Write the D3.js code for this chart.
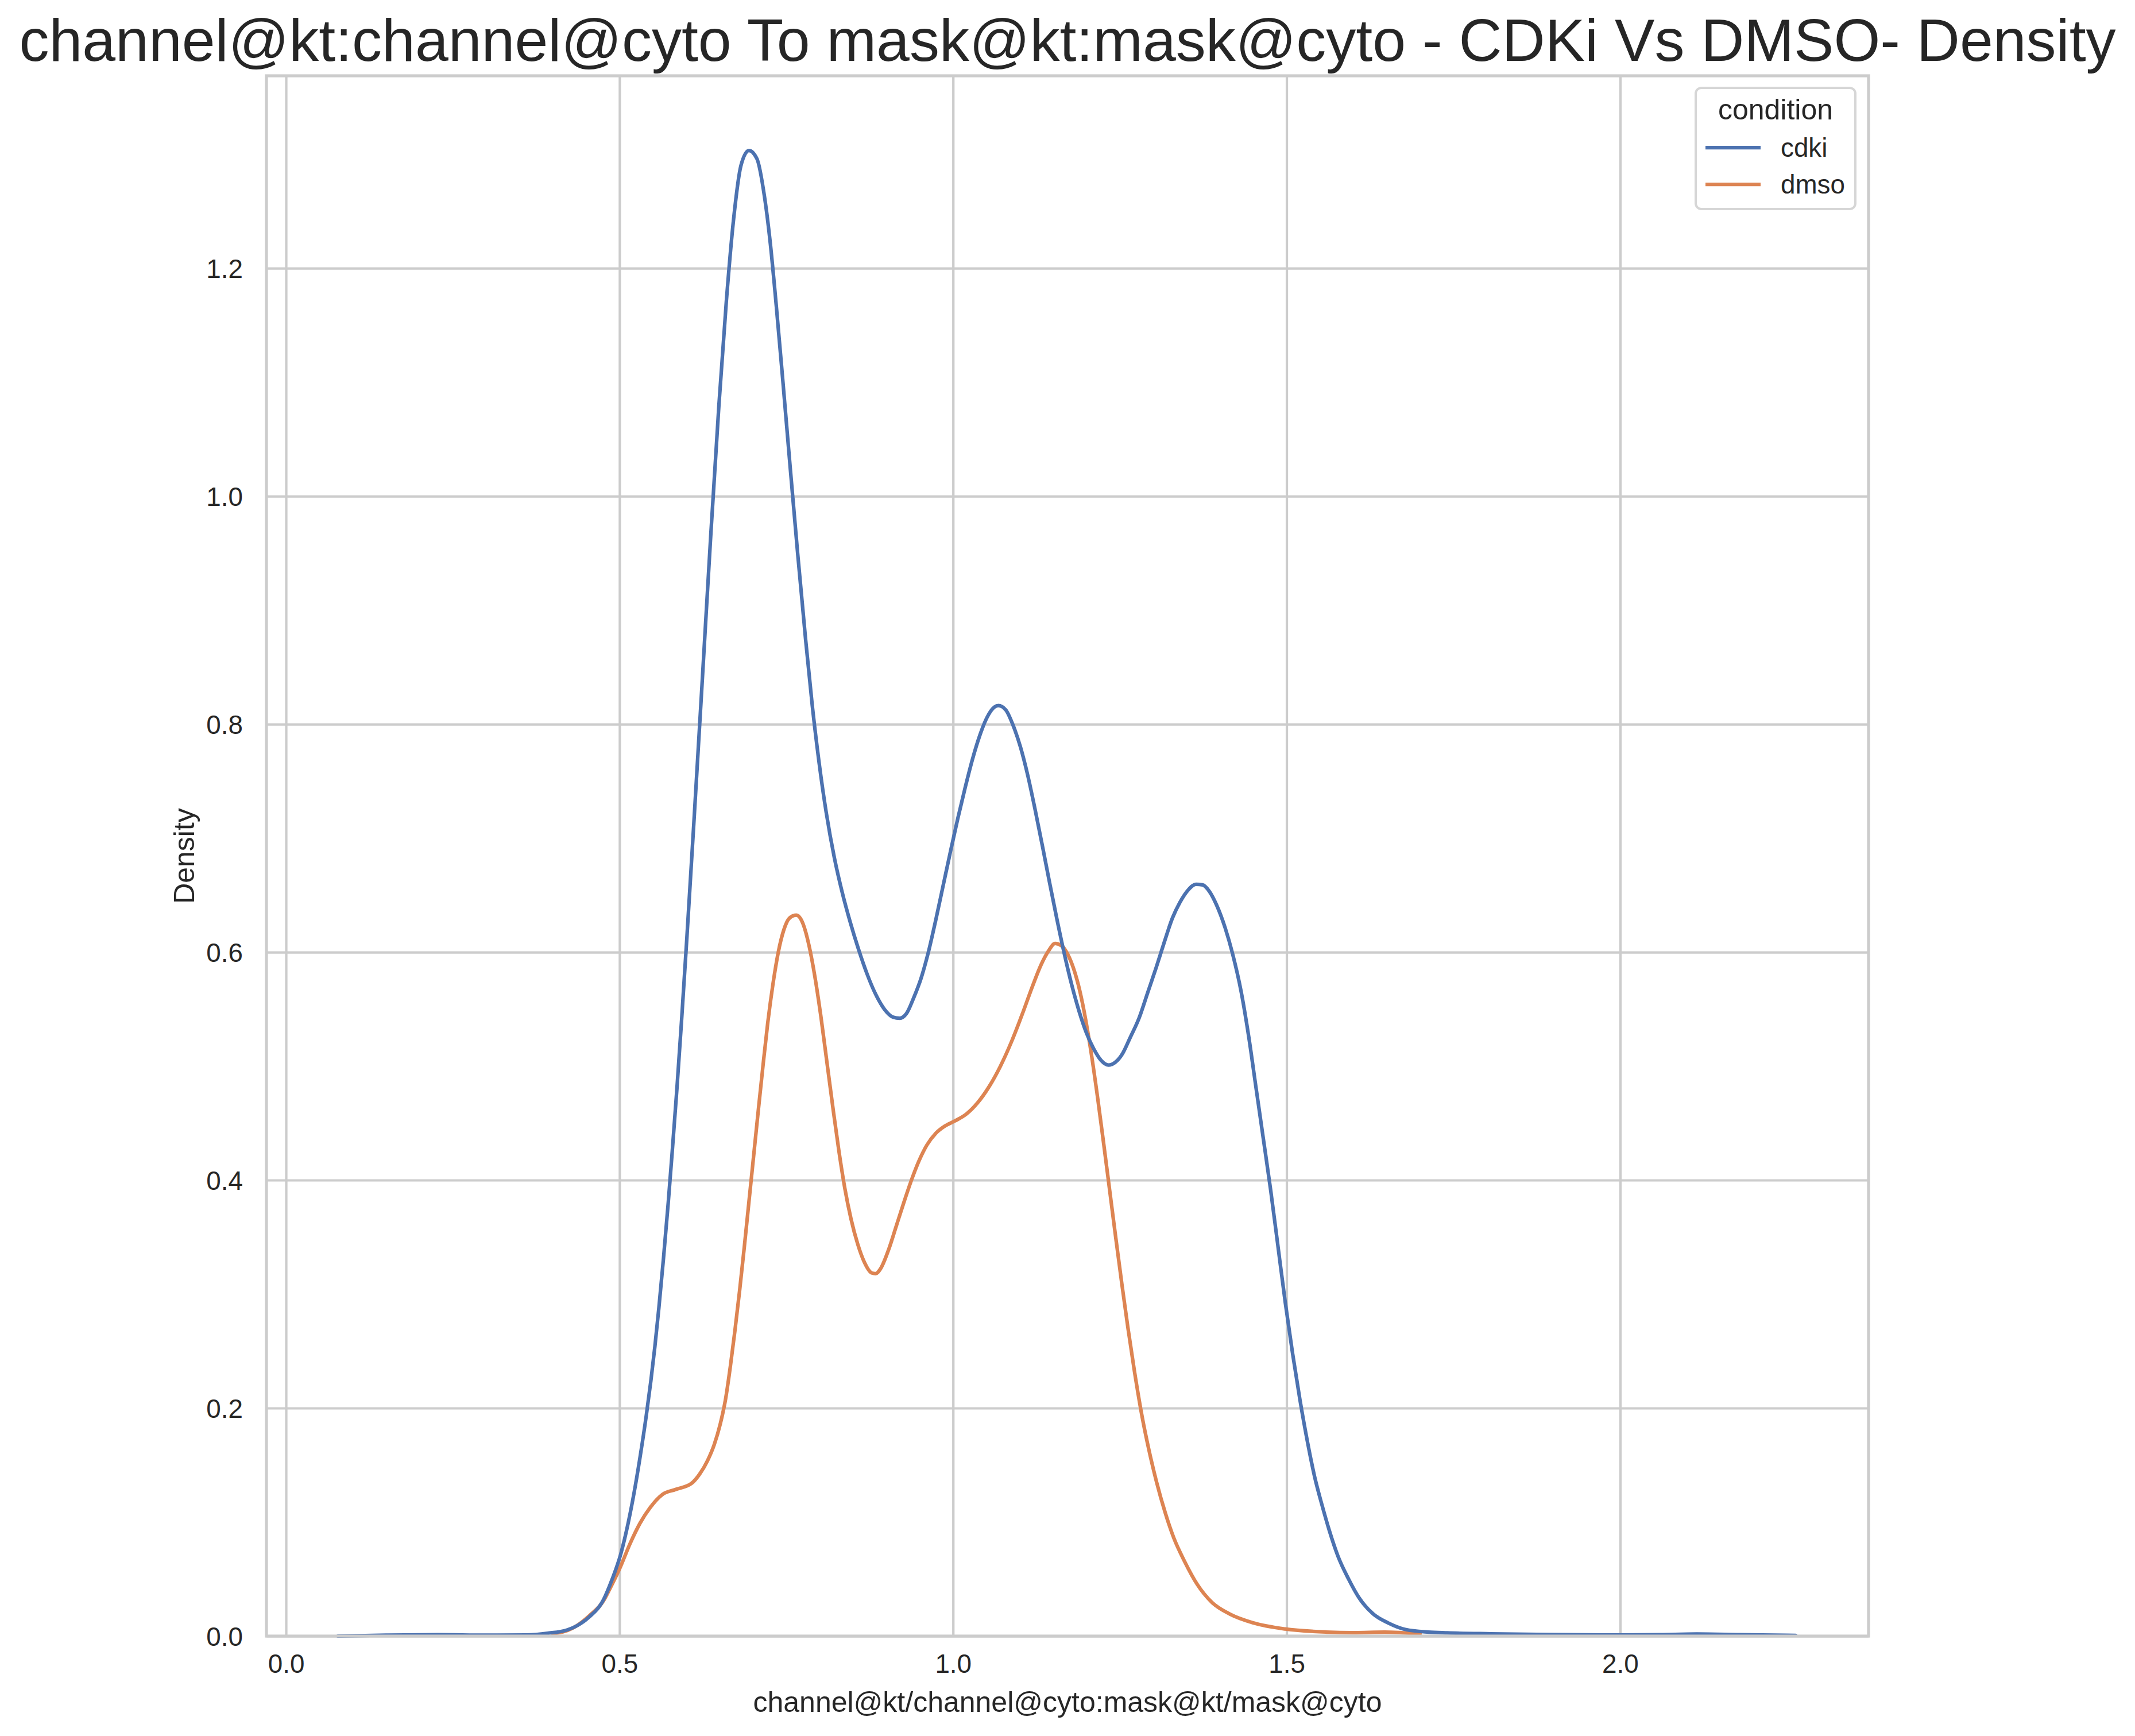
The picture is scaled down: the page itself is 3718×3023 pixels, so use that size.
<!DOCTYPE html>
<html>
<head>
<meta charset="utf-8">
<script src="https://cdn.jsdelivr.net/npm/d3@7"></script>
<style>
  body { margin: 0; background: #ffffff; }
  svg { display: block; }
  text { font-family: "Liberation Sans", Arial, sans-serif; fill: #262626; }
</style>
</head>
<body>
<div id="chart"></div>
<script>
// KDE curves: x value and density
var cdkiX = [0.078, 0.15, 0.228, 0.30, 0.36, 0.392, 0.422, 0.436, 0.453, 0.476,
  0.489, 0.502, 0.513, 0.522, 0.531, 0.540, 0.547, 0.553, 0.559, 0.566,
  0.573, 0.579, 0.586, 0.593, 0.601, 0.612, 0.624, 0.637, 0.649, 0.660,
  0.671, 0.682, 0.694, 0.706, 0.717, 0.726, 0.735, 0.745, 0.755, 0.767,
  0.779, 0.789, 0.799, 0.810, 0.822, 0.834, 0.846, 0.858, 0.871, 0.884,
  0.897, 0.910, 0.920, 0.930, 0.941, 0.952, 0.963, 0.974, 0.985, 0.996,
  1.007, 1.018, 1.029, 1.040, 1.051, 1.062, 1.068, 1.079, 1.090, 1.101,
  1.112, 1.123, 1.134, 1.145, 1.156, 1.167, 1.178, 1.189, 1.200, 1.211,
  1.222, 1.233, 1.243, 1.254, 1.265, 1.279, 1.292, 1.305, 1.316, 1.329,
  1.340, 1.353, 1.364, 1.374, 1.384, 1.395, 1.408, 1.419, 1.432, 1.443,
  1.454, 1.465, 1.476, 1.487, 1.498, 1.509, 1.520, 1.531, 1.542, 1.553,
  1.564, 1.577, 1.593, 1.608, 1.630, 1.652, 1.678, 1.713, 1.741, 1.807,
  1.892, 2.0, 2.06, 2.115, 2.18, 2.263];
var cdkiY = [0.0, 0.0008, 0.0012, 0.0008, 0.0010, 0.0025, 0.0055, 0.009, 0.016, 0.0319,
  0.0499, 0.0723, 0.0993, 0.1263, 0.1578, 0.193, 0.224, 0.254, 0.288, 0.332,
  0.380, 0.425, 0.480, 0.540, 0.613, 0.719, 0.838, 0.968, 1.080, 1.170,
  1.243, 1.290, 1.3033, 1.296, 1.264, 1.222, 1.167, 1.100, 1.031, 0.950,
  0.874, 0.816, 0.767, 0.722, 0.683, 0.652, 0.626, 0.603, 0.581, 0.563,
  0.550, 0.543, 0.542, 0.546, 0.560, 0.577, 0.600, 0.628, 0.658, 0.688,
  0.717, 0.744, 0.769, 0.790, 0.806, 0.815, 0.8163, 0.8125, 0.799, 0.780,
  0.755, 0.725, 0.693, 0.660, 0.628, 0.598, 0.571, 0.548, 0.529, 0.515,
  0.505, 0.501, 0.5033, 0.5109, 0.5244, 0.5424, 0.5649, 0.5874, 0.6076, 0.6301,
  0.6436, 0.6549, 0.6595, 0.6590, 0.6535, 0.6414, 0.6211, 0.5986, 0.5649, 0.5267,
  0.4817, 0.4368, 0.3917, 0.3423, 0.2927, 0.2479, 0.2073, 0.1713, 0.1398, 0.1151,
  0.0927, 0.0701, 0.0499, 0.0341, 0.0193, 0.0116, 0.0058, 0.0035, 0.0028, 0.0020,
  0.0013, 0.0009, 0.0012, 0.0018, 0.0012, 0.0006];

var dmsoX = [0.40, 0.43, 0.455, 0.476, 0.485, 0.500, 0.516, 0.531, 0.546, 0.564,
  0.584, 0.608, 0.620, 0.632, 0.642, 0.651, 0.659, 0.666, 0.673, 0.680,
  0.687, 0.694, 0.701, 0.708, 0.715, 0.722, 0.730, 0.738, 0.746, 0.755,
  0.765, 0.775, 0.784, 0.793, 0.802, 0.811, 0.820, 0.829, 0.838, 0.847,
  0.857, 0.867, 0.878, 0.884, 0.891, 0.904, 0.915, 0.926, 0.937, 0.949,
  0.961, 0.974, 0.988, 1.003, 1.020, 1.037, 1.054, 1.071, 1.088, 1.104,
  1.119, 1.132, 1.143, 1.153, 1.163, 1.172, 1.181, 1.190, 1.199, 1.208,
  1.217, 1.226, 1.235, 1.244, 1.253, 1.262, 1.272, 1.283, 1.294, 1.305,
  1.318, 1.331, 1.347, 1.366, 1.388, 1.415, 1.450, 1.498, 1.560, 1.600,
  1.647, 1.700];
var dmsoY = [0.002, 0.007, 0.018, 0.031, 0.0409, 0.0589, 0.0814, 0.0993, 0.1128, 0.1241,
  0.1286, 0.134, 0.142, 0.154, 0.168, 0.186, 0.208, 0.236, 0.268, 0.303,
  0.341, 0.381, 0.421, 0.461, 0.500, 0.537, 0.572, 0.600, 0.619, 0.630,
  0.6324, 0.625, 0.606, 0.578, 0.543, 0.503, 0.463, 0.425, 0.392, 0.366,
  0.344, 0.328, 0.3186, 0.3180, 0.322, 0.340, 0.360, 0.380, 0.399, 0.417,
  0.431, 0.441, 0.4475, 0.452, 0.458, 0.468, 0.482, 0.500, 0.522, 0.546,
  0.570, 0.589, 0.601, 0.6076, 0.6055, 0.598, 0.585, 0.566, 0.540, 0.508,
  0.471, 0.431, 0.390, 0.349, 0.309, 0.271, 0.232, 0.1938, 0.1623, 0.1353,
  0.1083, 0.0859, 0.0656, 0.0454, 0.0296, 0.0193, 0.0116, 0.0062, 0.0035, 0.0030,
  0.0035, 0.0020];

var conditions = ["cdki", "dmso"];
var colors = ["#4c72b0", "#dd8452"];
var xTicks = [0.0, 0.5, 1.0, 1.5, 2.0];
var yTicks = [0.0, 0.2, 0.4, 0.6, 0.8, 1.0, 1.2];

var titleText = "channel@kt:channel@cyto To mask@kt:mask@cyto - CDKi Vs DMSO- Density";
var xLabel = "channel@kt/channel@cyto:mask@kt/mask@cyto";
var yLabel = "Density";

var width = 3718, height = 3023;
// plot area edges (window.top is reserved, so these get a prefix)
var plotLeft = 464, plotRight = 3254, plotTop = 132, plotBottom = 2849;

var svg = d3.select("#chart").append("svg")
  .attr("width", width)
  .attr("height", height);

svg.append("rect").attr("width", width).attr("height", height).attr("fill", "#ffffff");

var x = d3.scaleLinear().domain([-0.0293, 2.3724]).range([plotLeft, plotRight]);
var y = d3.scaleLinear().domain([0, 1.3688]).range([plotBottom, plotTop]);

// grid lines from the axes
svg.append("g")
  .attr("transform", "translate(0," + plotBottom + ")")
  .call(d3.axisBottom(x).tickValues(xTicks).tickSize(-(plotBottom - plotTop)).tickFormat(""))
  .call(g => g.select(".domain").remove())
  .selectAll("line").attr("stroke", "#cccccc").attr("stroke-width", 4.2);

svg.append("g")
  .attr("transform", "translate(" + plotLeft + ",0)")
  .call(d3.axisLeft(y).tickValues(yTicks).tickSize(-(plotRight - plotLeft)).tickFormat(""))
  .call(g => g.select(".domain").remove())
  .selectAll("line").attr("stroke", "#cccccc").attr("stroke-width", 4.2);

// tick labels
var xAxis = svg.append("g")
  .attr("transform", "translate(0," + plotBottom + ")")
  .call(d3.axisBottom(x).tickValues(xTicks).tickSize(0).tickPadding(64).tickFormat(d3.format(".1f")));
xAxis.select(".domain").remove();
xAxis.selectAll("text").attr("font-size", 45.8).attr("fill", "#262626")
  .attr("font-family", "Liberation Sans, Arial, sans-serif").attr("dy", 0);

var yAxis = svg.append("g")
  .attr("transform", "translate(" + plotLeft + ",0)")
  .call(d3.axisLeft(y).tickValues(yTicks).tickSize(0).tickPadding(41).tickFormat(d3.format(".1f")));
yAxis.select(".domain").remove();
yAxis.selectAll("text").attr("font-size", 45.8).attr("fill", "#262626")
  .attr("font-family", "Liberation Sans, Arial, sans-serif").attr("dy", "0.36em");

// density lines
var line = d3.line()
  .x(d => x(d[0]))
  .y(d => y(d[1]))
  .curve(d3.curveMonotoneX);

var series = [d3.zip(cdkiX, cdkiY), d3.zip(dmsoX, dmsoY)];
// dmso drawn first so cdki sits on top, as in the picture
[1, 0].forEach(i => {
  svg.append("path")
    .datum(series[i])
    .attr("d", line)
    .attr("fill", "none")
    .attr("stroke", colors[i])
    .attr("stroke-width", 6.25)
    .attr("stroke-linejoin", "round")
    .attr("stroke-linecap", "round");
});

// spines
svg.append("rect")
  .attr("x", plotLeft).attr("y", plotTop)
  .attr("width", plotRight - plotLeft).attr("height", plotBottom - plotTop)
  .attr("fill", "none").attr("stroke", "#cccccc").attr("stroke-width", 5.2);

// title and axis labels
svg.append("text")
  .attr("x", (plotLeft + plotRight) / 2).attr("y", 106)
  .attr("text-anchor", "middle").attr("font-size", 104)
  .text(titleText);

svg.append("text")
  .attr("x", (plotLeft + plotRight) / 2).attr("y", 2981)
  .attr("text-anchor", "middle").attr("font-size", 50)
  .text(xLabel);

svg.append("text")
  .attr("transform", "translate(338," + (plotTop + plotBottom) / 2 + ") rotate(-90)")
  .attr("text-anchor", "middle").attr("font-size", 50)
  .text(yLabel);

// legend
var legend = svg.append("g");
legend.append("rect")
  .attr("x", 2953).attr("y", 153).attr("width", 278).attr("height", 211)
  .attr("rx", 10).attr("fill", "#ffffff").attr("fill-opacity", 0.8)
  .attr("stroke", "#d6d6d6").attr("stroke-width", 4);
legend.append("text")
  .attr("x", 3092).attr("y", 208)
  .attr("text-anchor", "middle").attr("font-size", 50)
  .text("condition");

conditions.forEach((c, i) => {
  var ly = 257 + i * 64;
  legend.append("line")
    .attr("x1", 2970).attr("x2", 3066).attr("y1", ly).attr("y2", ly)
    .attr("stroke", colors[i]).attr("stroke-width", 6.25);
  legend.append("text")
    .attr("x", 3101).attr("y", ly + 16)
    .attr("font-size", 45.8)
    .text(c);
});
</script>
</body>
</html>
